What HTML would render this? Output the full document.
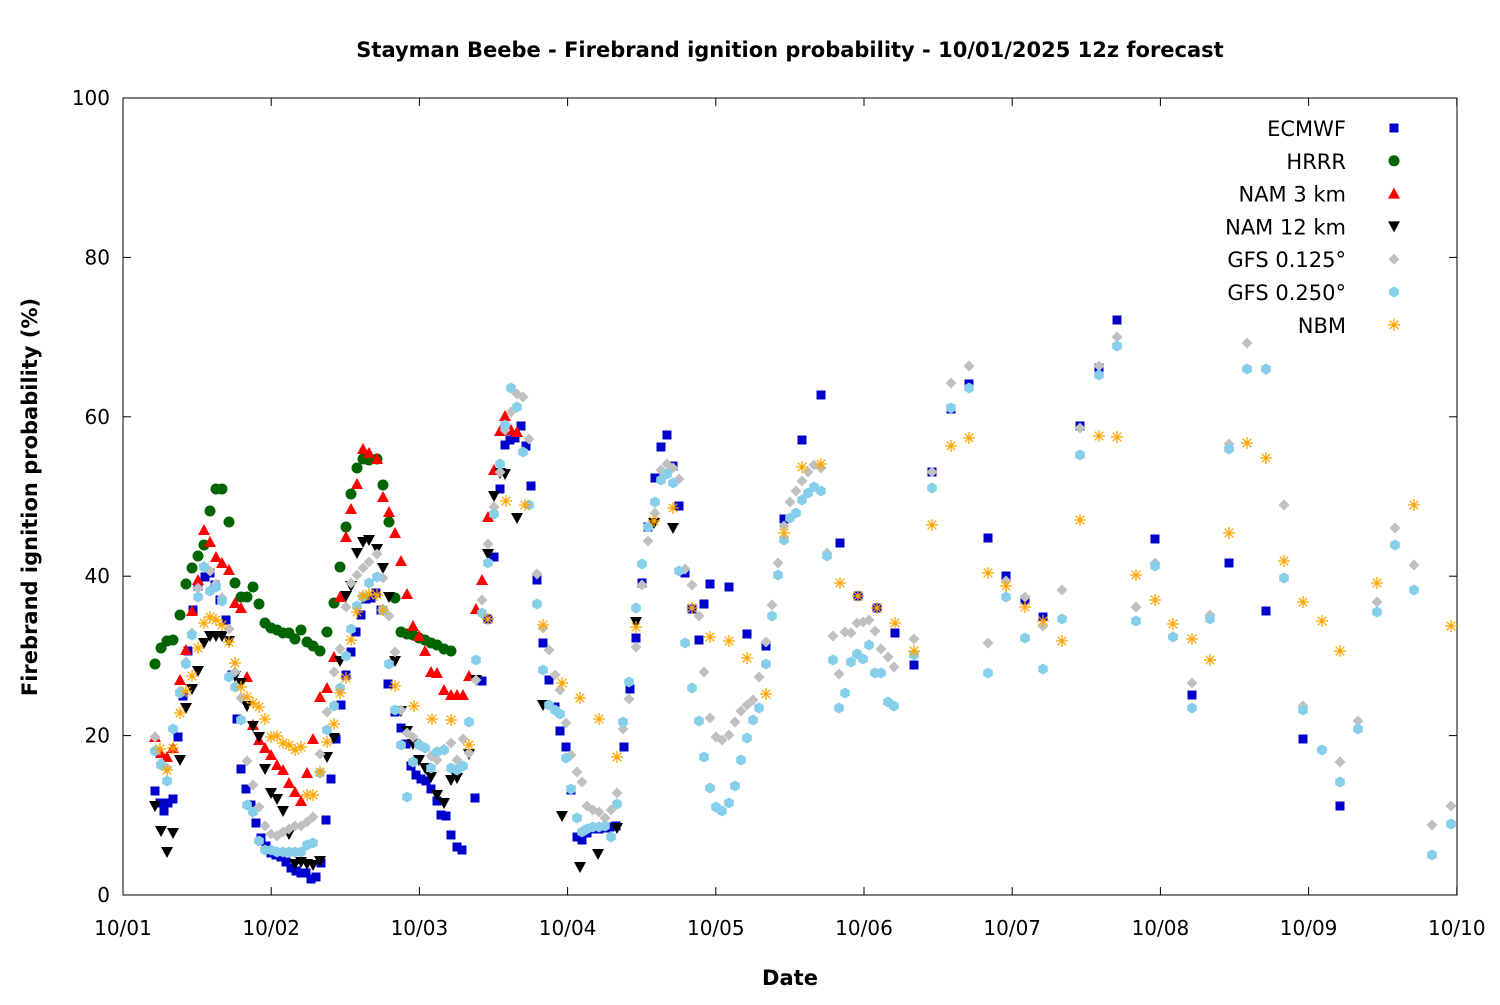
<!DOCTYPE html>
<html><head><meta charset="utf-8"><style>
body{margin:0;background:#fff}
svg text{font-family:"DejaVu Sans","Liberation Sans",sans-serif}
</style></head><body>
<svg id="s" width="1500" height="1000" xmlns="http://www.w3.org/2000/svg">
<rect width="1500" height="1000" fill="#fff"/>
<text x="790" y="57" font-size="21" font-weight="bold" text-anchor="middle">Stayman Beebe - Firebrand ignition probability - 10/01/2025 12z forecast</text>
<rect x="123" y="98" width="1334" height="797" fill="none" stroke="#000" stroke-width="1"/>
<g id="ax" font-size="20"></g>
<text x="790" y="985" font-size="21" font-weight="bold" text-anchor="middle">Date</text>
<text transform="translate(37,497) rotate(-90)" font-size="21" font-weight="bold" text-anchor="middle">Firebrand ignition probability (%)</text>
<g id="pts"></g>
<g id="leg" font-size="21"></g>
</svg>
<script>
var NS="http://www.w3.org/2000/svg";
function el(p,t,a,txt){var e=document.createElementNS(NS,t);for(var k in a)e.setAttribute(k,a[k]);if(txt!==undefined)e.textContent=txt;p.appendChild(e);return e;}
var ax=document.getElementById('ax');
for(var i=0;i<=5;i++){var y=895-i*159.4;el(ax,'text',{x:110,y:y+7,'text-anchor':'end'},String(i*20));
el(ax,'line',{x1:123,x2:131,y1:y,y2:y,stroke:'#000'});el(ax,'line',{x1:1449,x2:1457,y1:y,y2:y,stroke:'#000'});}
for(var d=0;d<=9;d++){var x=123+d*148.2;el(ax,'text',{x:x,y:935,'text-anchor':'middle'},'10/'+(d+1<10?'0':'')+(d+1));
el(ax,'line',{x1:x,x2:x,y1:887,y2:895,stroke:'#000'});el(ax,'line',{x1:x,x2:x,y1:98,y2:106,stroke:'#000'});}
function P(s){var a=s.split(/[\s]+/).filter(Boolean).map(function(t){return t.split(',').map(Number)});return a;}
var E=P("155,791 160,803 164,811 168,803 173,799 178,737 183,696 188,651 193,610 198,586 205,577 210,573 215,585 220,600 226,620 232,675 237,719 241,769 246,789 251,805 256,823 261,838 266,846 271,853 276,855 281,857 286,862 291,868 296,871 301,873 306,873 311,879 316,877 321,863 326,820 331,779 336,739 341,705 346,675 351,652 356,632 361,615 366,599 371,598 376,593 381,610 388,684 395,712 401,728 406,744 411,766 416,775 421,779 426,781 431,789 437,801 441,815 446,816 451,835 457,847 462,850 475,798 482,681 488,619 494,557 500,489 505,445 510,440 515,438 521,426 526,446 531,486 537,580 543,643 549,680 555,707 560,731 566,747 571,790 577,837 582,840 587,833 593,829 599,829 605,828 610,827 616,826 624,747 630,689 636,638 642,583 648,527 655,478 661,447 667,435 673,466 679,506 685,573 692,609 699,640 704,604 710,584 729,587 747,634 766,646 784,519 802,440 821,395 840,543 858,596 877,608 895,633 914,665 932,472 951,409 969,384 988,538 1006,576 1025,600 1043,617 1080,426 1099,368 1117,320 1155,539 1192,695 1229,563 1266,611 1303,739 1340,806");
var H=P("155,664 161,648 167,641 173,640 180,615 186,584 192,568 198,556 204,545 210,511 216,489 222,489 229,522 235,583 241,597 247,597 253,587 259,604 265,623 271,628 277,630 283,633 289,633 295,639 301,630 307,642 313,646 320,651 327,632 334,603 340,567 346,527 351,494 357,468 363,459 369,460 377,459 383,485 389,522 395,598 401,632 407,634 413,635 419,638 425,640 431,643 437,645 444,649 451,651");
var N3=P("155,737 161,753 167,757 173,748 180,680 186,650 192,611 198,580 204,530 210,542 216,557 222,563 229,570 235,603 241,608 247,677 253,725 259,740 265,748 271,755 277,765 283,770 289,783 295,792 301,801 307,773 313,739 320,697 327,688 334,657 340,597 346,537 351,509 357,484 363,449 369,453 377,459 383,497 389,512 395,533 401,561 407,594 413,626 419,636 425,651 431,672 437,673 444,690 451,695 457,695 463,695 469,676 476,609 482,580 488,517 494,470 500,431 505,416 511,430 517,432");
var N12=P("155,806 161,831 167,852 173,833 180,760 186,708 192,689 198,671 204,643 210,636 216,636 222,636 229,641 235,676 241,683 247,706 253,726 259,737 265,769 271,793 277,799 283,811 289,834 295,864 301,862 307,864 313,865 320,861 327,757 334,738 340,661 346,596 351,586 357,553 363,542 369,540 377,549 383,568 389,597 395,661 401,711 407,731 413,744 419,760 425,768 431,777 437,795 444,803 451,780 457,778 469,754 476,680 488,554 494,496 500,473 505,474 517,518 543,705 562,816 580,867 598,854 617,828 636,622 654,523 673,528");
var G1=P("155,737 161,763 167,768 173,729 180,691 186,662 192,633 198,588 204,566 210,571 216,584 222,598 229,629 235,672 241,698 247,761 253,785 259,807 265,826 271,834 277,836 283,832 289,829 295,826 301,826 307,822 313,817 320,754 327,712 334,672 340,649 346,607 351,583 357,575 363,568 369,562 377,554 383,578 389,616 395,652 401,710 407,733 413,737 419,743 425,748 431,756 437,760 444,749 451,743 457,760 463,739 469,753 476,680 482,600 488,544 494,507 500,472 505,430 511,412 517,394 523,397 529,439 537,574 543,628 549,650 555,675 560,690 566,723 571,755 577,772 582,782 587,806 593,810 599,812 605,818 611,810 617,793 623,729 629,699 636,647 642,585 648,541 655,513 661,470 667,464 673,468 679,479 685,569 692,585 699,616 704,672 710,718 716,737 722,740 729,735 735,722 741,711 747,705 753,700 759,677 766,642 772,605 778,563 784,526 790,502 796,491 802,481 808,472 814,465 821,468 827,553 833,636 839,674 845,632 851,633 857,623 863,622 869,620 875,631 881,649 888,657 894,667 914,639 932,472 951,383 969,366 988,643 1006,581 1025,597 1043,626 1062,590 1080,428 1099,366 1117,337 1136,607 1155,563 1173,637 1192,683 1210,615 1229,444 1247,343 1266,370 1284,505 1303,706 1322,750 1340,762 1358,721 1377,602 1395,528 1414,565 1432,825 1451,806");
var G2=P("155,751 161,765 167,781 173,729 180,693 186,664 192,635 198,597 204,567 210,591 216,587 222,601 229,677 235,687 241,720 247,805 253,812 259,841 265,850 271,850 277,852 283,852 289,852 295,852 301,852 307,845 313,843 320,773 327,730 334,706 340,688 346,656 351,629 357,606 363,597 369,583 377,577 383,610 389,664 395,710 401,745 407,797 413,762 419,745 425,748 431,768 437,752 444,750 451,768 457,770 463,766 469,722 476,660 482,613 488,563 494,514 500,464 505,425 511,388 517,407 523,452 529,505 537,604 543,670 549,705 555,710 560,714 566,758 571,789 577,818 582,832 587,829 593,827 599,827 605,826 611,837 617,804 623,722 629,682 636,608 642,564 648,527 655,502 661,480 667,474 673,483 679,571 685,643 692,688 699,721 704,757 710,788 716,807 722,811 729,803 735,786 741,760 747,738 753,720 759,708 766,664 772,616 778,575 784,540 790,518 796,513 802,500 808,493 814,487 821,491 827,556 833,660 839,708 845,693 851,662 857,654 863,659 869,645 875,673 881,673 888,702 894,706 914,655 932,488 951,408 969,388 988,673 1006,597 1025,638 1043,669 1062,619 1080,455 1099,375 1117,346 1136,621 1155,566 1173,637 1192,708 1210,619 1229,449 1247,369 1266,369 1284,578 1303,710 1322,750 1340,782 1358,729 1377,612 1395,545 1414,590 1432,855 1451,824");
var NB=P("160,749 167,770 173,748 180,713 186,691 192,676 198,648 204,623 210,617 216,620 222,625 229,642 235,663 241,687 247,697 253,703 259,707 265,719 271,737 277,736 283,743 289,745 295,750 301,747 307,795 313,795 320,772 327,742 334,724 340,693 346,678 351,640 357,612 363,596 369,594 377,595 383,610 395,686 414,706 432,719 451,720 469,745 488,619 506,501 525,505 543,625 562,683 580,698 599,719 617,757 636,627 654,521 673,508 692,608 710,637 729,641 747,658 766,694 784,533 802,467 821,464 840,583 858,596 877,608 895,623 914,651 932,525 951,446 969,438 988,573 1006,586 1025,607 1043,621 1062,641 1080,520 1099,436 1117,437 1136,575 1155,600 1173,624 1192,639 1210,660 1229,533 1247,443 1266,458 1284,561 1303,602 1322,621 1340,651 1377,583 1414,505 1451,626");
function sq(g,x,y){el(g,'rect',{x:x-4.5,y:y-4.5,width:9,height:9,fill:'#0000cc'});}
function ci(g,x,y){el(g,'circle',{cx:x,cy:y,r:5.5,fill:'#006400'});}
function tu(g,x,y){el(g,'polygon',{points:(x-6)+','+(y+5)+' '+(x+6)+','+(y+5)+' '+x+','+(y-6),fill:'#ff0000'});}
function td(g,x,y){el(g,'polygon',{points:(x-6)+','+(y-5)+' '+(x+6)+','+(y-5)+' '+x+','+(y+6),fill:'#000'});}
function di(g,x,y){el(g,'polygon',{points:x+','+(y-5.5)+' '+(x+5.5)+','+y+' '+x+','+(y+5.5)+' '+(x-5.5)+','+y,fill:'#c0c0c0'});}
function hx(g,x,y){var p=[];for(var k=0;k<6;k++){var a=Math.PI/3*k+Math.PI/6;p.push((x+5.5*Math.cos(a)).toFixed(1)+','+(y+5.5*Math.sin(a)).toFixed(1));}el(g,'polygon',{points:p.join(' '),fill:'#87ceeb'});}
function as(g,x,y){var r=6;var d='M'+(x-r)+' '+y+'h'+2*r+'M'+x+' '+(y-r)+'v'+2*r+'M'+(x-4.3)+' '+(y-4.3)+'l8.6 8.6M'+(x-4.3)+' '+(y+4.3)+'l8.6 -8.6';el(g,'path',{d:d,stroke:'#ffa500','stroke-width':1.3,fill:'none'});}
var g=document.getElementById('pts');
var S=[[E,sq],[H,ci],[N3,tu],[N12,td],[G1,di],[G2,hx],[NB,as]];
S.forEach(function(s){s[0].forEach(function(p){s[1](g,p[0],p[1]);});});
var L=document.getElementById('leg');var names=['ECMWF','HRRR','NAM 3 km','NAM 12 km','GFS 0.125°','GFS 0.250°','NBM'];
names.forEach(function(n,i){var y=128+i*32.8;el(L,'text',{x:1346,y:y+8,'text-anchor':'end'},n);S[i][1](L,1394,y);});
</script>
</body></html>
